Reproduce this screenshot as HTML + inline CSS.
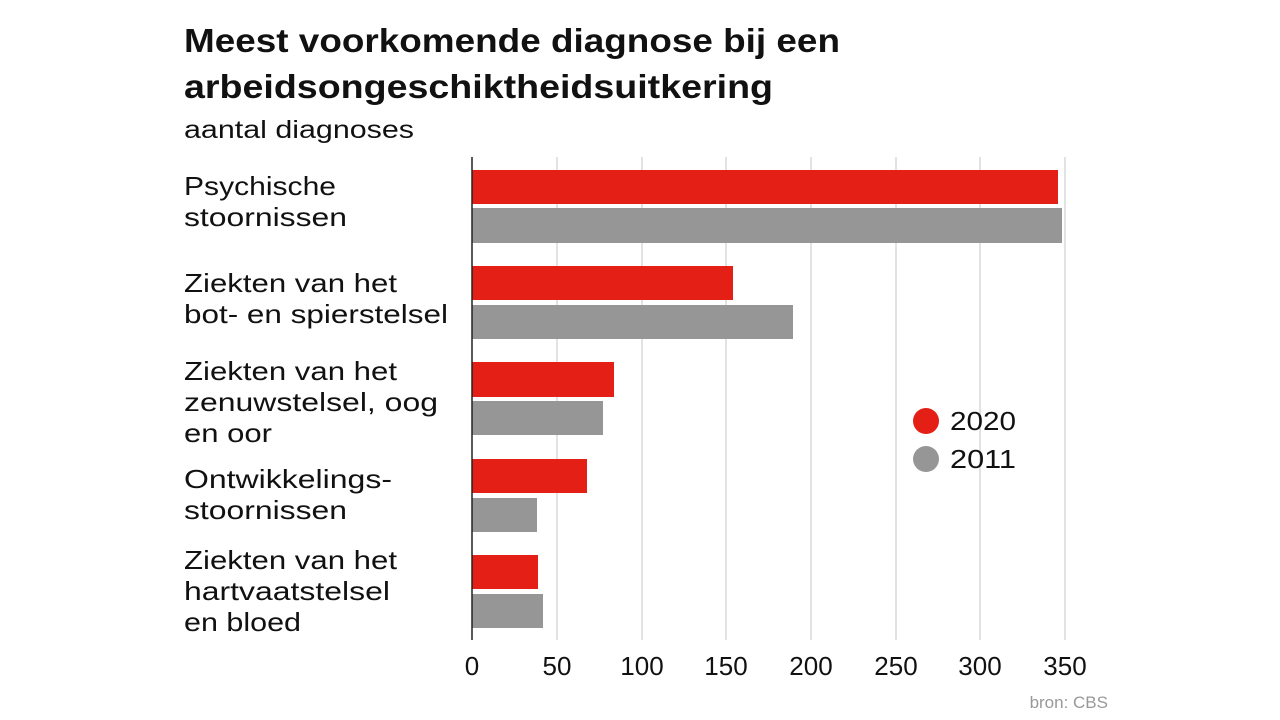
<!DOCTYPE html>
<html><head><meta charset="utf-8"><style>
html,body{margin:0;padding:0;background:#fff;}
svg{display:block;font-family:"Liberation Sans",sans-serif;}
</style></head><body>
<svg width="1280" height="720" viewBox="0 0 1280 720" xmlns="http://www.w3.org/2000/svg">
<rect width="1280" height="720" fill="#fff"/>
<text x="184" y="52" font-size="33" font-weight="bold" fill="#111" textLength="656" lengthAdjust="spacingAndGlyphs">Meest voorkomende diagnose bij een</text>
<text x="184" y="98" font-size="33" font-weight="bold" fill="#111" textLength="589" lengthAdjust="spacingAndGlyphs">arbeidsongeschiktheidsuitkering</text>
<text x="184" y="138" font-size="25" fill="#111" textLength="230" lengthAdjust="spacingAndGlyphs">aantal diagnoses</text>
<g stroke="#d8d8d8" stroke-width="1.5">
<line x1="557" y1="157" x2="557" y2="640"/>
<line x1="642" y1="157" x2="642" y2="640"/>
<line x1="726" y1="157" x2="726" y2="640"/>
<line x1="811" y1="157" x2="811" y2="640"/>
<line x1="896" y1="157" x2="896" y2="640"/>
<line x1="980" y1="157" x2="980" y2="640"/>
<line x1="1065" y1="157" x2="1065" y2="640"/>
</g>
<g fill="#e41f16">
<rect x="472" y="170" width="586" height="34"/>
<rect x="472" y="266" width="261" height="34"/>
<rect x="472" y="362" width="142" height="35"/>
<rect x="472" y="459" width="115" height="34"/>
<rect x="472" y="555" width="66" height="34"/>
</g>
<g fill="#969696">
<rect x="472" y="208" width="590" height="35"/>
<rect x="472" y="305" width="321" height="34"/>
<rect x="472" y="401" width="131" height="34"/>
<rect x="472" y="498" width="65" height="34"/>
<rect x="472" y="594" width="71" height="34"/>
</g>
<line x1="472" y1="157" x2="472" y2="640" stroke="#222" stroke-width="1.5"/>
<g font-size="26" fill="#111">
<text x="184" y="195" textLength="152" lengthAdjust="spacingAndGlyphs">Psychische</text>
<text x="184" y="226" textLength="163" lengthAdjust="spacingAndGlyphs">stoornissen</text>
<text x="184" y="292" textLength="213" lengthAdjust="spacingAndGlyphs">Ziekten van het</text>
<text x="184" y="323" textLength="264" lengthAdjust="spacingAndGlyphs">bot- en spierstelsel</text>
<text x="184" y="380" textLength="213" lengthAdjust="spacingAndGlyphs">Ziekten van het</text>
<text x="184" y="411" textLength="254" lengthAdjust="spacingAndGlyphs">zenuwstelsel, oog</text>
<text x="184" y="442" textLength="88" lengthAdjust="spacingAndGlyphs">en oor</text>
<text x="184" y="488" textLength="208" lengthAdjust="spacingAndGlyphs">Ontwikkelings-</text>
<text x="184" y="519" textLength="163" lengthAdjust="spacingAndGlyphs">stoornissen</text>
<text x="184" y="569" textLength="213" lengthAdjust="spacingAndGlyphs">Ziekten van het</text>
<text x="184" y="600" textLength="206" lengthAdjust="spacingAndGlyphs">hartvaatstelsel</text>
<text x="184" y="631" textLength="117" lengthAdjust="spacingAndGlyphs">en bloed</text>
</g>
<g font-size="26" fill="#111" text-anchor="middle">
<text x="472" y="675">0</text>
<text x="557" y="675">50</text>
<text x="642" y="675">100</text>
<text x="726" y="675">150</text>
<text x="811" y="675">200</text>
<text x="896" y="675">250</text>
<text x="980" y="675">300</text>
<text x="1065" y="675">350</text>
</g>
<circle cx="926" cy="421" r="13" fill="#e41f16"/>
<circle cx="926" cy="459" r="13" fill="#969696"/>
<text x="950" y="430" font-size="26" fill="#111" textLength="66" lengthAdjust="spacingAndGlyphs">2020</text>
<text x="950" y="468" font-size="26" fill="#111" textLength="66" lengthAdjust="spacingAndGlyphs">2011</text>
<text x="1108" y="708" font-size="17" fill="#999" text-anchor="end">bron: CBS</text>
</svg>
</body></html>
